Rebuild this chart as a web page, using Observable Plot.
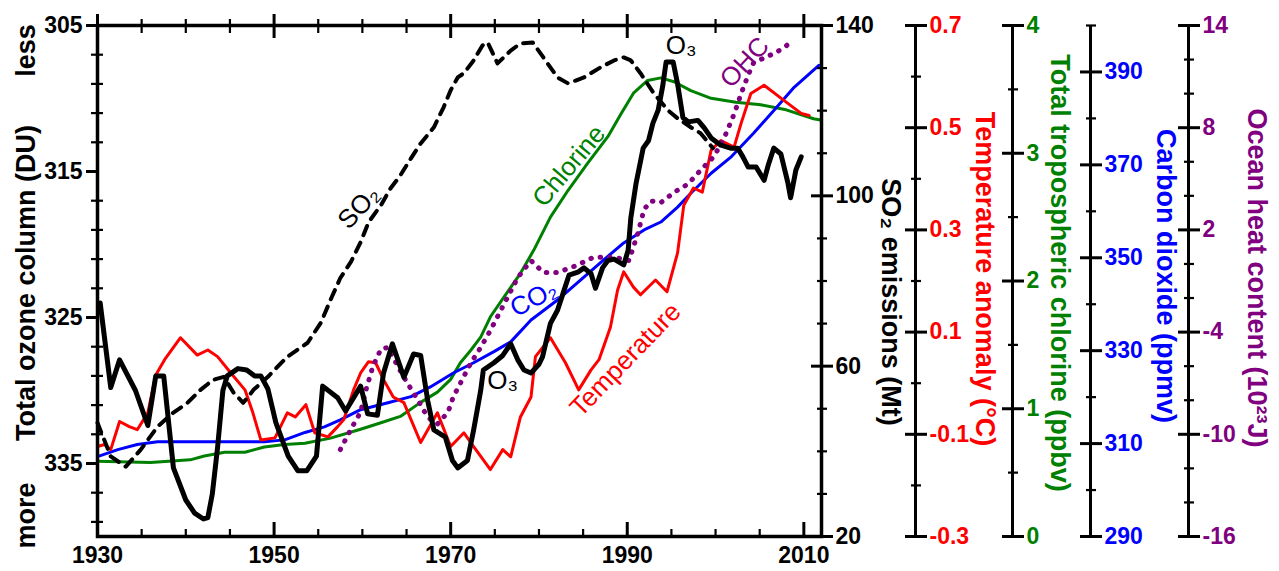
<!DOCTYPE html>
<html><head><meta charset="utf-8">
<script src="https://cdn.jsdelivr.net/npm/d3@7"></script>
<script src="https://cdn.jsdelivr.net/npm/@observablehq/plot@0.6"></script>
<style>
html,body{margin:0;padding:0;background:#fff;}
#chart{position:relative;width:1279px;height:571px;overflow:hidden;}
#chart svg{position:absolute;left:0;top:0;}
</style></head><body><div id="chart"></div>
<script>
// ---- data: [year, value] ----
const ozone = [[1930.3,324.0],[1931.5,329.8],[1932.5,327.9],[1934.3,330.0],[1935.7,332.4],[1936.6,329.0],[1937.5,329.0],[1938.6,335.3],[1940.0,337.5],[1941.0,338.4],[1942.0,338.8],[1942.5,338.7],[1943.0,337.1],[1943.6,333.9],[1944.2,330.0],[1944.7,329.0],[1945.9,328.5],[1946.9,328.6],[1947.8,329.0],[1948.5,329.0],[1949.3,329.9],[1950.2,332.2],[1951.6,334.5],[1952.7,335.5],[1953.7,335.5],[1954.8,334.5],[1955.5,329.7],[1957.2,330.5],[1958.1,331.4],[1959.8,329.7],[1960.6,331.6],[1961.7,331.7],[1962.4,328.8],[1963.4,326.8],[1964.7,329.1],[1965.8,327.5],[1966.6,327.6],[1967.4,330.7],[1968.1,332.7],[1969.4,333.2],[1970.2,334.8],[1970.8,335.3],[1971.9,334.8],[1972.6,332.7],[1973.4,330.0],[1973.7,328.6],[1974.9,328.1],[1975.9,327.6],[1976.8,326.8],[1977.6,327.9],[1978.3,328.6],[1979.1,328.8],[1980.0,328.2],[1980.4,327.7],[1981.3,325.4],[1982.1,324.5],[1982.7,323.4],[1983.4,322.1],[1984.4,321.9],[1985.1,321.6],[1985.9,322.0],[1986.4,323.0],[1987.2,321.6],[1987.8,321.1],[1988.5,321.0],[1989.6,321.4],[1990.1,320.4],[1990.4,318.2],[1991.0,315.8],[1991.8,313.4],[1992.4,312.9],[1992.9,311.7],[1993.5,310.8],[1994.0,309.2],[1994.4,307.5],[1995.2,307.5],[1995.7,309.0],[1996.3,311.3],[1996.9,311.6],[1998.0,311.5],[1998.7,312.0],[1999.5,312.7],[2000.6,313.2],[2001.7,313.4],[2002.5,313.4],[2003.1,314.0],[2003.7,314.7],[2004.6,314.7],[2005.5,315.6],[2006.0,314.5],[2006.6,313.4],[2007.4,313.8],[2008.2,315.8],[2008.5,316.8],[2009.1,314.9],[2009.7,314.0]];
const so2 = [[1930.0,46.7],[1931.5,38.8],[1933.2,36.4],[1934.9,40.4],[1936.8,45.8],[1938.6,49.1],[1940.2,51.4],[1941.7,54.5],[1943.1,56.8],[1944.3,57.5],[1945.4,53.8],[1946.5,51.4],[1947.7,54.5],[1949.3,57.5],[1950.4,59.9],[1951.5,62.2],[1953.8,65.5],[1955.3,70.2],[1956.4,75.6],[1957.5,80.7],[1958.7,84.5],[1959.8,89.1],[1960.7,93.8],[1962.1,97.8],[1963.2,101.8],[1964.3,104.8],[1965.5,108.8],[1966.6,112.3],[1968.1,116.1],[1969.2,120.8],[1970.0,124.8],[1970.8,127.8],[1971.5,128.8],[1972.6,131.8],[1973.6,135.3],[1974.2,136.0],[1975.3,131.1],[1976.8,134.1],[1977.9,135.8],[1979.3,136.0],[1980.5,132.5],[1982.1,127.8],[1983.3,126.4],[1985.1,127.8],[1987.0,130.2],[1988.5,131.8],[1989.6,132.5],[1990.4,131.8],[1991.5,128.8],[1993.0,124.1],[1994.6,120.1],[1995.7,118.2],[1997.2,116.1],[1998.3,114.7],[1999.7,111.2]];
const temperature = [[1930.0,-0.124],[1930.8,-0.120],[1931.5,-0.130],[1932.5,-0.075],[1933.6,-0.085],[1934.5,-0.091],[1935.7,-0.058],[1936.6,0.016],[1937.6,0.046],[1939.4,0.089],[1941.3,0.055],[1942.5,0.065],[1943.6,0.052],[1945.1,0.020],[1946.7,-0.013],[1947.6,-0.058],[1948.5,-0.111],[1950.1,-0.107],[1951.5,-0.058],[1952.4,-0.066],[1953.6,-0.042],[1954.6,-0.097],[1956.1,-0.105],[1957.2,-0.085],[1957.9,-0.071],[1959.0,-0.013],[1959.8,0.020],[1960.7,0.042],[1961.5,0.040],[1962.4,0.007],[1963.5,-0.027],[1964.7,-0.038],[1966.6,-0.116],[1968.5,-0.058],[1970.0,-0.124],[1971.5,-0.097],[1972.6,-0.124],[1974.5,-0.169],[1975.9,-0.130],[1976.8,-0.144],[1977.9,-0.066],[1979.1,-0.027],[1979.6,0.052],[1981.3,0.089],[1983.0,0.040],[1984.5,-0.013],[1985.9,0.026],[1986.8,0.046],[1988.1,0.110],[1988.9,0.182],[1989.6,0.218],[1990.7,0.188],[1991.5,0.173],[1993.2,0.202],[1994.5,0.179],[1995.7,0.255],[1996.4,0.348],[1997.5,0.382],[1998.5,0.374],[1999.5,0.456],[2000.6,0.475],[2002.1,0.462],[2002.9,0.509],[2004.0,0.567],[2005.5,0.583],[2007.7,0.554],[2009.7,0.528],[2010.6,0.524]];
const chlorine = [[1930.0,0.59],[1936.0,0.58],[1940.5,0.60],[1942.1,0.63],[1944.4,0.66],[1946.7,0.66],[1948.9,0.70],[1951.2,0.72],[1953.5,0.73],[1956.4,0.77],[1959.8,0.84],[1962.1,0.89],[1964.3,0.94],[1966.6,1.05],[1968.5,1.13],[1970.0,1.23],[1971.1,1.36],[1972.3,1.46],[1973.4,1.56],[1974.5,1.72],[1975.7,1.84],[1976.8,1.95],[1977.9,2.06],[1979.4,2.24],[1981.3,2.50],[1983.3,2.71],[1985.5,2.92],[1987.8,3.13],[1989.3,3.31],[1990.7,3.47],[1992.3,3.57],[1993.8,3.59],[1995.3,3.56],[1997.2,3.49],[1999.5,3.43],[2002.3,3.40],[2005.1,3.38],[2008.0,3.34],[2011.1,3.27],[2011.9,3.26]];
const co2 = [[1930.0,307.2],[1932.3,308.7],[1934.5,309.8],[1936.8,310.4],[1939.9,310.4],[1942.8,310.4],[1945.9,310.4],[1948.9,310.4],[1951.2,310.8],[1953.5,312.4],[1955.7,313.6],[1957.5,315.1],[1959.8,317.3],[1962.9,318.8],[1965.5,320.1],[1967.7,322.2],[1970.3,325.2],[1972.6,327.4],[1974.9,329.8],[1976.8,331.9],[1979.1,336.6],[1982.1,340.9],[1984.7,345.2],[1987.3,349.5],[1989.6,353.2],[1991.9,356.0],[1993.8,357.7],[1995.7,360.9],[1997.2,363.9],[1999.5,368.2],[2001.7,371.6],[2004.3,376.8],[2006.6,381.7],[2008.9,386.7],[2011.7,391.4]];
const ohc = [[1957.5,-10.9],[1958.7,-9.7],[1959.8,-8.7],[1960.4,-7.4],[1961.2,-6.0],[1962.1,-5.0],[1962.9,-4.9],[1964.0,-6.0],[1965.1,-7.0],[1966.3,-8.0],[1967.4,-9.0],[1968.5,-9.4],[1969.7,-8.7],[1970.3,-7.8],[1971.1,-7.0],[1972.3,-5.8],[1973.4,-4.9],[1974.5,-3.9],[1975.7,-2.7],[1976.5,-1.9],[1977.6,-0.8],[1979.1,0.2],[1980.5,-0.5],[1982.1,-0.5],[1984.2,-0.1],[1986.2,0.4],[1988.5,0.4],[1990.2,0.2],[1991.2,1.8],[1991.9,3.2],[1992.7,3.7],[1993.8,3.6],[1995.3,4.2],[1996.9,4.7],[1998.3,5.5],[1999.8,6.3],[2000.9,7.3],[2002.1,8.8],[2002.9,10.0],[2003.7,11.1],[2004.3,11.8],[2005.5,12.1],[2006.8,12.4],[2008.0,12.8],[2008.8,13.2]];

// ---- tick labels ----
const yearTicks = [1930, 1950, 1970, 1990, 2010];
const ozoneTicks = [305, 315, 325, 335];
const so2Ticks = [20, 60, 100, 140];
const tempTicks = [-0.3, -0.1, 0.1, 0.3, 0.5, 0.7];
const chlorineTicks = [0, 1, 2, 3, 4];
const co2Ticks = [290, 310, 330, 350, 370, 390];
const ohcTicks = [-16, -10, -4, 2, 8, 14];

// ---- in-plot labels (data units of each layer) ----
const annotations = [
  {layer: "ozone", text: "O\u2083", year: 1996.1, value: 306.4, angle: 0},
  {layer: "ozone", text: "O\u2083", year: 1975.9, value: 329.3, angle: 0},
  {layer: "so2", text: "SO\u2082", year: 1959.6, value: 97.3, angle: -47},
  {layer: "chlorine", text: "Chlorine", year: 1983.4, value: 2.90, angle: -50},
  {layer: "co2", text: "CO\u2082", year: 1979.4, value: 341.2, angle: -28},
  {layer: "temp", text: "Temperature", year: 1989.8, value: 0.046, angle: -46},
  {layer: "ohc", text: "OHC", year: 2003.3, value: 11.83, angle: -47}
];

const W = 1279, H = 571, ML = 97, MR = 458, MT = 25, MB = 35;
const xDomain = [1930, 2012];
const FONT = "'Liberation Sans', Arial, Helvetica, sans-serif";
const RED = "#ff0000", GREEN = "#008000", BLUE = "#0000ff", PURPLE = "#800080";
const chart = document.getElementById("chart");
const notMajor = (arr, major) => arr.filter(v => !major.some(m => Math.abs(m - v) < 1e-9));

function layer(yOpts, marks, xOpts = {axis: null}) {
  const svg = Plot.plot({
    width: W, height: H, marginLeft: ML, marginRight: MR, marginTop: MT, marginBottom: MB,
    x: {domain: xDomain, ...xOpts}, y: yOpts,
    style: {background: "transparent", overflow: "visible", fontFamily: FONT, color: "black"},
    marks
  });
  chart.appendChild(svg);
}

function rightAxis(offset, major, minor, fmt, color) {
  return [
    Plot.ruleX([xDomain[1]], {dx: offset, stroke: "black", strokeWidth: 3}),
    Plot.axisY(minor, {anchor: "right", tickSize: 10, dx: offset - 5, stroke: "black", strokeWidth: 2.2, tickFormat: () => "", label: null}),
    Plot.axisY(major, {anchor: "right", tickSize: 22, dx: offset - 11, tickPadding: 3, stroke: "black", fill: color, strokeWidth: 3, tickFormat: fmt, fontSize: 23, fontWeight: "bold", label: null})
  ];
}
const centered = {textAnchor: "middle", lineAnchor: "middle", fontSize: 27, fontWeight: "bold"};
function title(text, dx, dy, color) {
  return Plot.text([text], {frameAnchor: "right", dx, dy, rotate: 90, fill: color, ...centered});
}
function labels(key, color) {
  return Plot.text(annotations.filter(a => a.layer === key), {x: "year", y: "value", text: "text", rotate: "angle", fill: color, fontSize: 26, textAnchor: "middle", lineAnchor: "middle"});
}
const X = d => d[0], Y = d => d[1];

// chlorine layer
layer({domain: [0, 4]}, [
  ...rightAxis(191, chlorineTicks, [0.5, 1.5, 2.5, 3.5], d => String(d), GREEN),
  title("Total tropospheric chlorine (ppbv)", 238, -8, GREEN),
  Plot.line(chlorine, {x: X, y: Y, stroke: GREEN, strokeWidth: 3}),
  labels("chlorine", GREEN)
]);
// CO2 layer
layer({domain: [290, 400]}, [
  ...rightAxis(269, co2Ticks, [300, 320, 340, 360, 380, 400], d => String(d), BLUE),
  title("Carbon dioxide (ppmv)", 344, -5, BLUE),
  Plot.line(co2, {x: X, y: Y, stroke: BLUE, strokeWidth: 3}),
  labels("co2", BLUE)
]);
// temperature layer
layer({domain: [-0.3, 0.7]}, [
  ...rightAxis(94, tempTicks, [-0.2, 0, 0.2, 0.4, 0.6], d => d.toFixed(1), RED),
  title("Temperature anomaly (\u00B0C)", 163, -2, RED),
  Plot.line(temperature, {x: X, y: Y, stroke: RED, strokeWidth: 3}),
  labels("temp", RED)
]);
// ocean heat content layer
layer({domain: [-16, 14]}, [
  ...rightAxis(367, ohcTicks, notMajor(d3.range(-16, 15, 2), ohcTicks), d => String(d), PURPLE),
  title("Ocean heat content (10\u00B2\u00B3J)", 435, -3, PURPLE),
  Plot.line(ohc, {x: X, y: Y, stroke: PURPLE, strokeWidth: 5, strokeDasharray: "0.5,9", strokeLinecap: "round"}),
  labels("ohc", PURPLE)
]);
// SO2 layer
layer({domain: [20, 140]}, [
  ...rightAxis(0, so2Ticks, notMajor(d3.range(20, 141, 10), so2Ticks), d => String(d), "black"),
  title("SO\u2082 emissions (Mt)", 69, 21, "black"),
  Plot.line(so2, {x: X, y: Y, stroke: "black", strokeWidth: 4, strokeDasharray: "10,8"}),
  labels("so2", "black")
]);
// ozone layer (main frame, left and bottom axes)
layer({domain: [305, 340], reverse: true}, [
  Plot.frame({stroke: "black", strokeWidth: 3.5}),
  Plot.axisY(notMajor(d3.range(305, 341, 2), ozoneTicks), {anchor: "left", tickSize: 12, dx: 6, strokeWidth: 2.2, tickFormat: () => "", label: null}),
  Plot.axisY(ozoneTicks, {anchor: "left", tickSize: 13, dx: 2, tickPadding: 4, strokeWidth: 3, tickFormat: d => String(d), fontSize: 23, fontWeight: "bold", label: null}),
  Plot.axisX(notMajor(d3.range(1935, 2011, 5), yearTicks), {anchor: "bottom", tickSize: 7, dy: -7, strokeWidth: 2.2, tickFormat: () => "", label: null}),
  Plot.axisX(yearTicks, {anchor: "bottom", tickSize: 14, dy: -14, tickPadding: 10, strokeWidth: 3, tickFormat: d => String(d), fontSize: 23, fontWeight: "bold", label: null}),
  Plot.axisX(notMajor(d3.range(1935, 2011, 5), yearTicks), {anchor: "top", tickSize: 14, dy: 7, strokeWidth: 2.2, tickFormat: () => "", label: null}),
  Plot.axisX(yearTicks, {anchor: "top", tickSize: 24, dy: 12, strokeWidth: 3, tickFormat: () => "", label: null}),
  Plot.text(["Total ozone column (DU)"], {frameAnchor: "left", dx: -71, dy: 2, rotate: -90, ...centered}),
  Plot.text(["less"], {frameAnchor: "top-left", dx: -71, dy: 25, rotate: -90, ...centered}),
  Plot.text(["more"], {frameAnchor: "bottom-left", dx: -71, dy: -21, rotate: -90, ...centered}),
  Plot.line(ozone, {x: X, y: Y, stroke: "black", strokeWidth: 5, strokeLinejoin: "round"}),
  labels("ozone", "black")
], {});
</script></body></html>
